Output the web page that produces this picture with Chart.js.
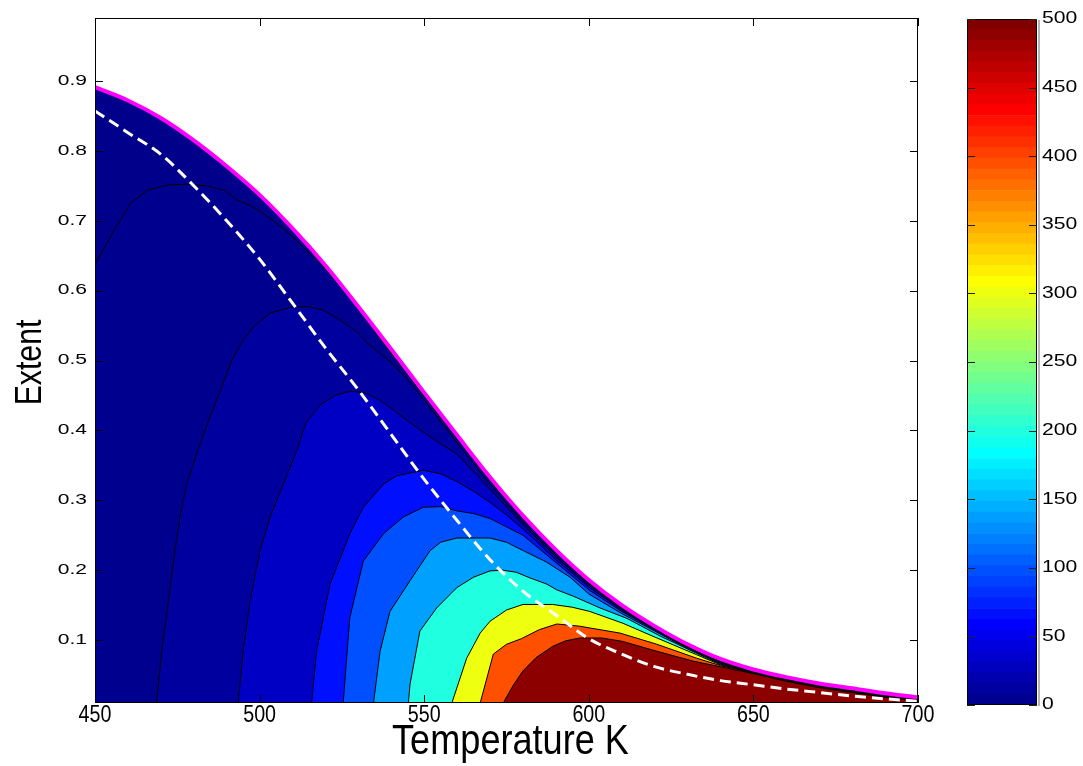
<!DOCTYPE html>
<html>
<head>
<meta charset="utf-8">
<script src="https://cdn.jsdelivr.net/npm/chart.js@4.4.1/dist/chart.umd.min.js"></script>
<style>
  html, body { margin: 0; padding: 0; background: #fff; }
  #wrap { position: relative; width: 1083px; height: 766px; overflow: hidden; background: #fff; }
  #main { position: absolute; left: 0; top: 0; }
  #bar  { position: absolute; left: 940px; top: 0; }
</style>
</head>
<body>
<div id="wrap">
  <canvas id="main" width="940" height="766"></canvas>
  <canvas id="bar" width="143" height="766"></canvas>
</div>
<script>
// ---- axes ----
const temperatureRange = [450, 700];
const extentRange = [0.01, 0.99];
const rateRange = [0, 500];
const temperatureTicks = [450, 500, 550, 600, 650, 700];
const extentTicks = [0.1, 0.2, 0.3, 0.4, 0.5, 0.6, 0.7, 0.8, 0.9];
const rateTicks = [0, 50, 100, 150, 200, 250, 300, 350, 400, 450, 500];

// ---- equilibrium extent (magenta) : [T, extent] ----
const equilibriumCurve = [
  [450, 0.891], [460, 0.872], [470, 0.847], [480, 0.815], [490, 0.778], [500, 0.737],
  [510, 0.689], [520, 0.636], [530, 0.577], [540, 0.516], [550, 0.454], [560, 0.393],
  [570, 0.333], [580, 0.278], [590, 0.229], [600, 0.186], [610, 0.150], [620, 0.120],
  [630, 0.094], [640, 0.073], [650, 0.058], [660, 0.047], [670, 0.038], [680, 0.031],
  [690, 0.024], [700, 0.018]
];

// ---- locus of maximum rate (white dashed) ----
const optimalCurve = [
  [450, 0.857], [460, 0.826], [470, 0.795], [480, 0.750], [490, 0.700], [500, 0.645],
  [510, 0.582], [520, 0.518], [530, 0.458], [540, 0.394], [550, 0.330], [560, 0.271],
  [570, 0.215], [580, 0.170], [590, 0.136], [600, 0.102], [610, 0.080], [620, 0.062],
  [630, 0.051], [640, 0.042], [650, 0.036], [660, 0.030], [670, 0.025], [680, 0.020],
  [690, 0.016], [700, 0.0125]
];

// ---- rate contours, outermost first : [T, extent] ----
const contour1 = [
  [450, 0.637], [456, 0.688], [461, 0.726], [466, 0.744], [472, 0.751], [478, 0.752],
  [484, 0.750], [489.5, 0.743], [493, 0.730], [497, 0.722], [500, 0.714], [505, 0.697],
  [510, 0.677], [515, 0.654], [520, 0.631], [525, 0.603], [530, 0.573], [540, 0.510],
  [550, 0.449], [560, 0.388], [570, 0.328], [580, 0.273], [590, 0.225], [600, 0.183],
  [610, 0.148], [620, 0.119], [630, 0.093], [640, 0.0715], [650, 0.0565], [660, 0.0455],
  [670, 0.0365], [680, 0.0295], [690, 0.0225], [700, 0.0165]
];
const contour2 = [
  [468.7, 0.01], [470.3, 0.084], [472.3, 0.156], [474.3, 0.228], [475.8, 0.276],
  [477.8, 0.323], [481.2, 0.371], [485, 0.420], [488.5, 0.462], [491.5, 0.500],
  [495, 0.529], [498.1, 0.548], [503.2, 0.568], [510.2, 0.577], [515, 0.577],
  [519.3, 0.572], [524.4, 0.558], [529.5, 0.541], [532.5, 0.526], [536.6, 0.510],
  [540, 0.497], [545, 0.472], [550, 0.443], [560, 0.382], [570, 0.323], [580, 0.269],
  [590, 0.222], [600, 0.181], [610, 0.146], [620, 0.118], [630, 0.092], [640, 0.0705],
  [650, 0.056], [660, 0.045], [670, 0.036], [680, 0.029], [690, 0.022], [700, 0.016]
];
const contour3 = [
  [493.5, 0.01], [495, 0.084], [497.1, 0.156], [500.1, 0.228], [503.2, 0.276],
  [507.2, 0.323], [511.3, 0.371], [514, 0.410], [518.3, 0.436], [522.9, 0.450],
  [527.5, 0.456], [532, 0.454], [536.6, 0.443], [541, 0.428], [546, 0.410], [552, 0.390],
  [560, 0.366], [570, 0.316], [580, 0.265], [590, 0.219], [600, 0.179], [610, 0.145],
  [620, 0.117], [630, 0.091], [640, 0.0695], [650, 0.0555], [660, 0.0445], [670, 0.0355],
  [680, 0.0285], [690, 0.0215], [700, 0.0158]
];
const contour4 = [
  [515.8, 0.01], [517.3, 0.084], [521.4, 0.180], [527.4, 0.252], [531.5, 0.290],
  [537.6, 0.323], [541.6, 0.335], [549.7, 0.343], [555, 0.338], [559.8, 0.327],
  [565, 0.313], [570, 0.297], [575, 0.279], [580, 0.259], [590, 0.215], [600, 0.176],
  [610, 0.143], [620, 0.116], [630, 0.090], [640, 0.0685], [650, 0.055], [660, 0.044],
  [670, 0.035], [680, 0.028], [690, 0.021], [700, 0.0155]
];
const contour5 = [
  [525.4, 0.01], [527.4, 0.132], [531.5, 0.213], [537.6, 0.252], [543.6, 0.276],
  [549.7, 0.290], [555, 0.291], [559.8, 0.285], [565, 0.281], [570, 0.274], [580, 0.250],
  [590, 0.211], [600, 0.172], [610, 0.141], [620, 0.1145], [630, 0.089], [640, 0.0675],
  [650, 0.0545], [660, 0.0435], [670, 0.0345], [680, 0.0275], [690, 0.0205], [700, 0.015]
];
const contour6 = [
  [534.6, 0.01], [536.6, 0.084], [539.6, 0.141], [545.7, 0.185], [551.8, 0.228],
  [555, 0.240], [559.9, 0.246], [570, 0.246], [575, 0.240], [580.1, 0.228], [587, 0.212],
  [594.3, 0.190], [600, 0.166], [610, 0.138], [620, 0.113], [630, 0.088], [640, 0.0665],
  [650, 0.054], [660, 0.043], [670, 0.034], [680, 0.027], [690, 0.020], [700, 0.0148]
];
const contour7 = [
  [545.2, 0.01], [545.7, 0.037], [548.7, 0.113], [553.8, 0.146], [559.9, 0.175],
  [565, 0.190], [570, 0.199], [574, 0.200], [578, 0.197], [582.1, 0.189], [587.3, 0.180],
  [590.2, 0.172], [595.2, 0.163], [603.4, 0.146], [611.6, 0.131], [621.6, 0.106],
  [632.8, 0.081], [640, 0.0655], [650, 0.0535], [660, 0.0425], [670, 0.0335],
  [680, 0.0265], [690, 0.0195], [700, 0.0145]
];
const contour8 = [
  [558.4, 0.01], [562.9, 0.074], [567, 0.110], [570, 0.127], [575, 0.143], [580, 0.151],
  [589, 0.151], [595, 0.147], [600.3, 0.141], [610.4, 0.124], [620.7, 0.103],
  [632.8, 0.079], [640, 0.0645], [650, 0.053], [660, 0.042], [670, 0.033], [680, 0.026],
  [690, 0.019], [700, 0.014]
];
const contour9 = [
  [567, 0.01], [571, 0.080], [575, 0.094], [579.5, 0.102], [585, 0.115], [590.3, 0.123],
  [597, 0.120], [609.5, 0.110], [620.7, 0.094], [632.8, 0.074], [640, 0.0635],
  [650, 0.0525], [660, 0.0415], [670, 0.0325], [680, 0.0255], [690, 0.0185], [700, 0.0138]
];
const contour10 = [
  [574, 0.01], [577, 0.035], [580, 0.056], [584, 0.075], [589, 0.091], [593, 0.099],
  [597.3, 0.103], [604, 0.103], [610.4, 0.098], [620.7, 0.084], [631.6, 0.070],
  [639.8, 0.062], [650, 0.052], [660, 0.041], [670, 0.032], [680, 0.025], [690, 0.018],
  [700, 0.0135]
];

const contours = [contour1, contour2, contour3, contour4, contour5,
                  contour6, contour7, contour8, contour9, contour10];

// fill colour of each band, from the band under the equilibrium line inward
const bandColors = ['#00008A', '#00008F', '#00009E', '#0000C4', '#0010FF', '#0050FF',
                    '#00A0FF', '#20FFDF', '#EFFF10', '#FF5000', '#8C0000'];

// ---- text styles ----
const FONT = '"Liberation Sans", Arial, Helvetica, sans-serif';
const textStyle = {
  yTick:  { size: 14, stretch: 1.5 },
  xTick:  { size: 24, stretch: 0.82 },
  cbTick: { size: 16, stretch: 1.32 },
  xTitle: { size: 42, stretch: 0.86 },
  yTitle: { size: 36, stretch: 0.84 }
};
const TICK_LEN = 8;

function drawText(ctx, str, x, y, style, align, angle) {
  ctx.save();
  ctx.font = style.size + 'px ' + FONT;
  ctx.fillStyle = '#000';
  ctx.textAlign = align;
  ctx.textBaseline = 'middle';
  ctx.translate(x, y);
  if (angle) ctx.rotate(angle);
  ctx.scale(style.stretch, 1);
  ctx.fillText(str, 0, 0);
  ctx.restore();
}

const toXY = pts => pts.map(([x, y]) => ({ x, y }));

// ---- main contour plot ----
const datasets = [];
datasets.push({
  data: toXY(optimalCurve), borderColor: '#FFFFFF', borderWidth: 3,
  borderDash: [11, 6], fill: false, order: 1, cubicInterpolationMode: 'monotone'
});
datasets.push({
  data: toXY(equilibriumCurve), borderColor: '#FF00FF', borderWidth: 4,
  fill: false, order: 2, cubicInterpolationMode: 'monotone'
});
contours.forEach((c, k) => {
  datasets.push({
    data: toXY(c), borderColor: '#000000', borderWidth: 1,
    backgroundColor: bandColors[k + 1], fill: 'start', order: 20 - k, tension: 0
  });
});
datasets.push({
  data: toXY(equilibriumCurve), borderWidth: 0, borderColor: 'rgba(0,0,0,0)',
  backgroundColor: bandColors[0], fill: 'start', order: 30,
  cubicInterpolationMode: 'monotone'
});

const plotFrame = {
  id: 'plotFrame',
  afterDatasetsDraw(chart) {
    const { ctx, chartArea: a, scales: { x, y } } = chart;
    ctx.save();
    ctx.strokeStyle = '#000';
    ctx.lineWidth = 1;
    ctx.strokeRect(a.left + 0.5, a.top + 0.5, a.right - a.left - 1, a.bottom - a.top - 1);
    ctx.beginPath();
    temperatureTicks.forEach(v => {
      const px = Math.round(x.getPixelForValue(v)) + 0.5;
      ctx.moveTo(px, a.bottom); ctx.lineTo(px, a.bottom - TICK_LEN);
      ctx.moveTo(px, a.top); ctx.lineTo(px, a.top + TICK_LEN);
    });
    extentTicks.forEach(v => {
      const py = Math.round(y.getPixelForValue(v)) + 0.5;
      ctx.moveTo(a.left, py); ctx.lineTo(a.left + TICK_LEN, py);
      ctx.moveTo(a.right, py); ctx.lineTo(a.right - TICK_LEN, py);
    });
    ctx.stroke();
    ctx.restore();

    temperatureTicks.forEach(v => {
      drawText(ctx, String(v), x.getPixelForValue(v), a.bottom + 12, textStyle.xTick, 'center');
    });
    extentTicks.forEach(v => {
      drawText(ctx, v.toFixed(1), a.left - 8, y.getPixelForValue(v), textStyle.yTick, 'right');
    });
    drawText(ctx, 'Temperature K', (a.left + a.right) / 2 + 4, a.bottom + 39, textStyle.xTitle, 'center');
    drawText(ctx, 'Extent', 31, (a.top + a.bottom) / 2 + 2, textStyle.yTitle, 'center', -Math.PI / 2);
  }
};

new Chart(document.getElementById('main'), {
  type: 'line',
  data: { datasets },
  options: {
    responsive: false,
    animation: false,
    devicePixelRatio: 1,
    layout: { padding: { left: 0, right: 22, top: 18, bottom: 0 } },
    plugins: { legend: { display: false }, tooltip: { enabled: false } },
    elements: { point: { radius: 0 }, line: { tension: 0 } },
    scales: {
      x: {
        type: 'linear', min: temperatureRange[0], max: temperatureRange[1],
        afterBuildTicks: s => { s.ticks = temperatureTicks.map(v => ({ value: v })); },
        afterFit: s => { s.height = 63; },
        ticks: { display: false }, grid: { display: false }, border: { display: false }
      },
      y: {
        type: 'linear', min: extentRange[0], max: extentRange[1],
        afterBuildTicks: s => { s.ticks = extentTicks.map(v => ({ value: v })); },
        afterFit: s => { s.width = 95; },
        ticks: { display: false }, grid: { display: false }, border: { display: false }
      }
    }
  },
  plugins: [plotFrame]
});

// ---- colour bar (jet, 64 steps) ----
function jet(i) {
  const u = k => (k <= 0 ? 0 : k <= 16 ? k / 16 : k <= 31 ? 1 : k <= 47 ? (48 - k) / 16 : 0);
  const c = [u(i - 24), u(i - 8), u(i + 8)].map(t => Math.round(t * 255));
  return 'rgb(' + c.join(',') + ')';
}
const STEPS = 64;
const barSets = [];
for (let i = 0; i < STEPS; i++) {
  const lo = rateRange[0] + (rateRange[1] - rateRange[0]) * i / STEPS;
  const hi = rateRange[0] + (rateRange[1] - rateRange[0]) * (i + 1) / STEPS;
  barSets.push({
    data: [[lo, hi]], backgroundColor: jet(i + 1), borderWidth: 0,
    grouped: false, barPercentage: 1, categoryPercentage: 1
  });
}

const barFrame = {
  id: 'barFrame',
  afterDatasetsDraw(chart) {
    const { ctx, chartArea: a, scales: { y } } = chart;
    ctx.save();
    ctx.fillStyle = '#b4b4b4';
    ctx.fillRect(a.right + 1, a.top + 1, 2, a.bottom - a.top);
    ctx.strokeStyle = '#000';
    ctx.lineWidth = 1;
    ctx.strokeRect(a.left + 0.5, a.top + 0.5, a.right - a.left - 1, a.bottom - a.top - 1);
    ctx.beginPath();
    rateTicks.forEach(v => {
      const py = Math.round(y.getPixelForValue(v)) + 0.5;
      ctx.moveTo(a.left, py); ctx.lineTo(a.left + TICK_LEN, py);
      ctx.moveTo(a.right, py); ctx.lineTo(a.right - TICK_LEN, py);
    });
    ctx.strokeStyle = '#222';
    ctx.stroke();
    ctx.restore();
    rateTicks.forEach(v => {
      drawText(ctx, String(v), a.right + 5, y.getPixelForValue(v), textStyle.cbTick, 'left');
    });
  }
};

new Chart(document.getElementById('bar'), {
  type: 'bar',
  data: { labels: [''], datasets: barSets },
  options: {
    responsive: false,
    animation: false,
    devicePixelRatio: 1,
    layout: { padding: { left: 27, right: 0, top: 19, bottom: 61 } },
    plugins: { legend: { display: false }, tooltip: { enabled: false } },
    scales: {
      x: { display: false },
      y: {
        position: 'right', min: rateRange[0], max: rateRange[1],
        afterBuildTicks: s => { s.ticks = rateTicks.map(v => ({ value: v })); },
        afterFit: s => { s.width = 46; },
        ticks: { display: false }, grid: { display: false }, border: { display: false }
      }
    }
  },
  plugins: [barFrame]
});
</script>
</body>
</html>
